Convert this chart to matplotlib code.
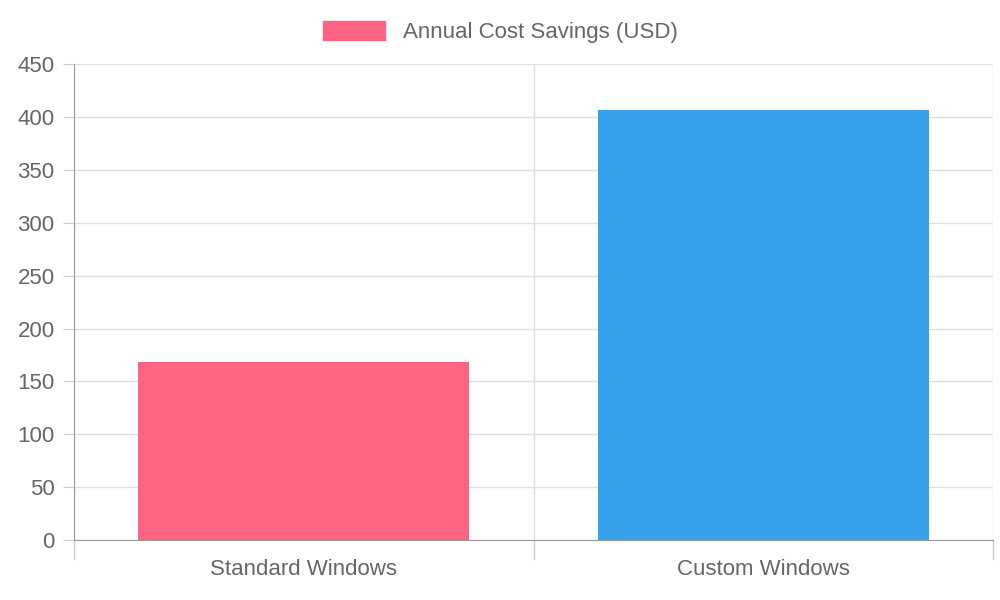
import matplotlib
matplotlib.use("Agg")
import matplotlib.pyplot as plt
from matplotlib.patches import Patch

categories = ["Standard Windows", "Custom Windows"]
values = [168, 407]
colors = ["#ff6384", "#36a2eb"]
legend_label = "Annual Cost Savings (USD)"

plt.rcParams['font.family'] = ['Liberation Sans', 'DejaVu Sans']
fig = plt.figure(figsize=(10, 6), dpi=100)
ax = fig.add_axes([0.074, 0.1, 0.919, 0.793])
x = range(len(categories))
ax.bar(x, values, width=0.72, color=colors, zorder=2)
ax.set_xlim(-0.5, len(categories) - 0.5)
ax.set_ylim(0, 450)
ax.set_yticks(range(0, 451, 50))
ax.set_xticks(list(x))
ax.set_xticklabels(categories)
ax.tick_params(axis='both', colors='#666666', labelsize=16, length=0)
ax.tick_params(axis='x', pad=14)
ax.tick_params(axis='y', pad=6, length=8, color='#cccccc')
ax.grid(axis='y', color='#e0e0e0', lw=1, zorder=0)
for b in [-0.5, 0.5, 1.5]:
    ax.axvline(b, color='#e0e0e0', lw=1, zorder=0)
    ax.plot([b, b], [0, -0.04], transform=ax.get_xaxis_transform(), color='#cccccc', lw=1, clip_on=False)
for s in ['top', 'right']:
    ax.spines[s].set_visible(False)
ax.spines['left'].set_color('#999999')
ax.spines['bottom'].set_color('#999999')
fig.legend(handles=[Patch(color=colors[0], label=legend_label)], loc='center',
           bbox_to_anchor=(0.5, 0.947), frameon=False, fontsize=16,
           labelcolor='#666666', handlelength=2.8, handleheight=1.0)
fig.savefig("out.png")
